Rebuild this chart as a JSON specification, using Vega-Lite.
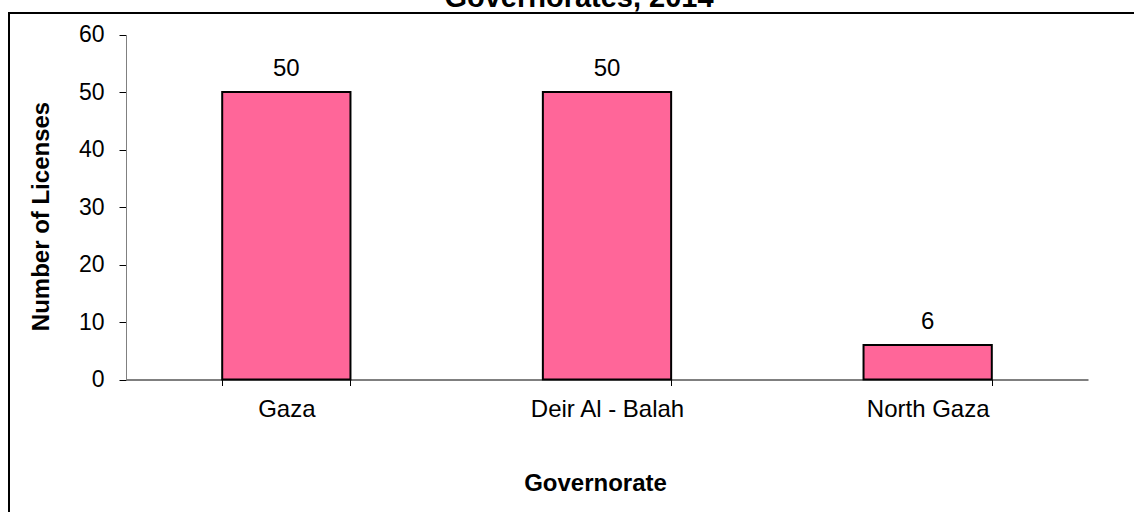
{
  "$schema": "https://vega.github.io/schema/vega-lite/v6.json",
  "width": 1140,
  "height": 520,
  "autosize": {"type": "none"},
  "padding": {"left": 9, "top": 13, "right": 0, "bottom": 0},
  "background": "white",
  "title": {
    "text": "Governorates, 2014",
    "font": "Liberation Sans",
    "fontSize": 29,
    "fontWeight": "bold",
    "color": "#000000",
    "baseline": "alphabetic",
    "offset": 0,
    "dy": 23,
    "anchor": "middle",
    "frame": "group"
  },
  "data": {
    "values": [
      {"Governorate": "Gaza", "Licenses": 50},
      {"Governorate": "Deir Al - Balah", "Licenses": 50},
      {"Governorate": "North Gaza", "Licenses": 6}
    ]
  },
  "encoding": {
    "x": {
      "field": "Governorate",
      "type": "nominal",
      "sort": null,
      "scale": {"range": [117, 1079], "paddingInner": 0.6, "paddingOuter": 0.3},
      "axis": {
        "title": "Governorate",
        "offset": -153.5,
        "tickBand": "extent",
        "tickSize": 6,
        "tickColor": "#000000",
        "tickWidth": 1,
        "domainColor": "#000000",
        "domainWidth": 1,
        "labelAngle": 0,
        "labelPadding": 31,
        "labelBaseline": "alphabetic",
        "labelFont": "Liberation Sans",
        "labelFontSize": 24,
        "labelColor": "#000000",
        "titleFont": "Liberation Sans",
        "titleFontSize": 24,
        "titleFontWeight": "bold",
        "titleColor": "#000000",
        "titleBaseline": "alphabetic",
        "titleX": 586,
        "titleY": 111,
        "grid": false
      }
    },
    "y": {
      "field": "Licenses",
      "type": "quantitative",
      "scale": {"domain": [0, 60], "range": [366.5, 21.5], "nice": false, "zero": true},
      "axis": {
        "title": "Number of Licenses",
        "offset": -117,
        "values": [0, 10, 20, 30, 40, 50, 60],
        "grid": false,
        "domainColor": "#808080",
        "domainWidth": 1,
        "tickColor": "#000000",
        "tickWidth": 1,
        "tickSize": 7,
        "labelPadding": 15,
        "labelFont": "Liberation Sans",
        "labelFontSize": 23,
        "labelColor": "#000000",
        "titleFont": "Liberation Sans",
        "titleFontSize": 24,
        "titleFontWeight": "bold",
        "titleColor": "#000000",
        "titleBaseline": "alphabetic",
        "titleX": -78,
        "titleY": 203
      }
    }
  },
  "layer": [
    {"mark": {"type": "bar", "fill": "#FF6699", "stroke": "#000000", "strokeWidth": 2}},
    {
      "mark": {"type": "text", "dy": -16, "baseline": "alphabetic", "fontSize": 24, "font": "Liberation Sans", "color": "#000000"},
      "encoding": {"text": {"field": "Licenses", "type": "quantitative"}}
    }
  ],
  "config": {"view": {"stroke": "#000000", "strokeWidth": 2}}
}
